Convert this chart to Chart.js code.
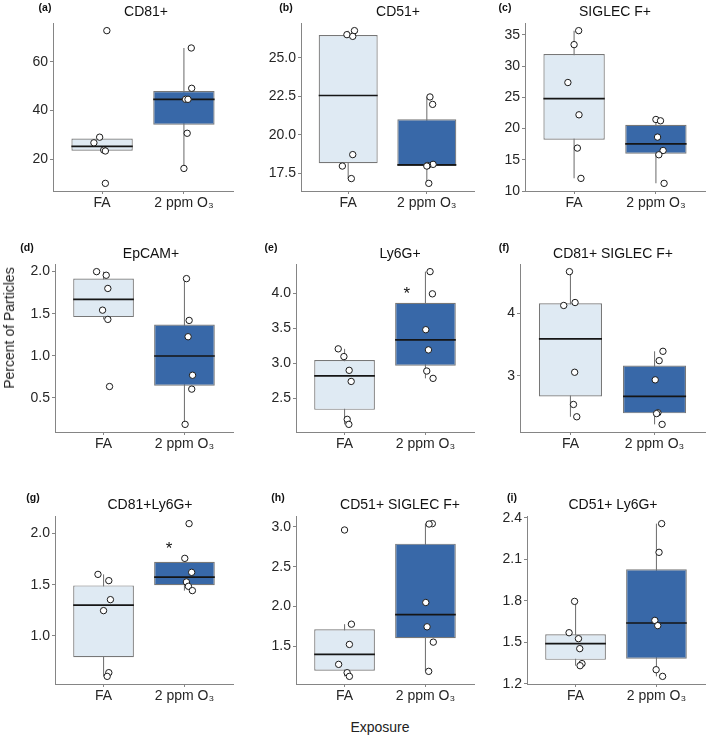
<!DOCTYPE html>
<html><head><meta charset="utf-8">
<script src="https://cdn.jsdelivr.net/npm/chart.js@4.4.0/dist/chart.umd.min.js"></script>
<style>
html,body{margin:0;padding:0;background:#fff;}
body{width:709px;height:739px;position:relative;overflow:hidden;font-family:"Liberation Sans",Arial,sans-serif;}
canvas{position:absolute;}
.lab{position:absolute;transform:translate(-50%,-50%);white-space:nowrap;color:#111;line-height:1;}
.ttl{font-size:14px;}
.let{font-size:10.5px;font-weight:bold;}
.axt{font-size:14px;color:#222;}
</style></head><body>
<script>
// ---------- data ----------
const groups = ['FA', '2 ppm O\u2083'];
const panelLetters = ['(a)','(b)','(c)','(d)','(e)','(f)','(g)','(h)','(i)'];
const panelTitles = ['CD81+','CD51+','SIGLEC F+','EpCAM+','Ly6G+','CD81+ SIGLEC F+','CD81+Ly6G+','CD51+ SIGLEC F+','CD51+ Ly6G+'];

const cd81FA   = [72.7, 29.1, 26.8, 23.82, 23.45, 10.2];
const cd81O3   = [65.6, 49.1, 44.6, 44.6, 30.7, 16.3];
const cd51FA   = [26.75, 26.49, 26.38, 18.73, 17.99, 17.18];
const cd51O3   = [22.46, 21.98, 18.1, 18.02, 17.99, 16.87];
const siglecFA = [35.69, 33.45, 27.38, 22.21, 16.88, 12.03];
const siglecO3 = [21.46, 21.25, 18.64, 16.5, 15.81, 11.23];
const epcamFA  = [2.0, 1.957, 1.80, 1.542, 1.432, 0.634];
const epcamO3  = [1.917, 1.42, 1.226, 0.768, 0.603, 0.184];
const ly6gFA   = [3.207, 3.096, 2.899, 2.74, 2.197, 2.125];
const ly6gO3   = [4.313, 3.995, 3.481, 3.192, 2.889, 2.784];
const cd81sigFA = [4.661, 4.169, 4.122, 3.058, 2.545, 2.349];
const cd81sigO3 = [3.392, 3.243, 2.937, 2.413, 2.40, 2.228];
const cd81lyFA = [1.60, 1.539, 1.354, 1.247, 0.643, 0.607];
const cd81lyO3 = [2.094, 1.756, 1.62, 1.526, 1.484, 1.442];
const cd51sigFA = [2.962, 1.776, 1.521, 1.27, 1.165, 1.119];
const cd51sigO3 = [3.042, 3.037, 2.049, 1.743, 1.55, 1.182];
const cd51lyFA = [1.796, 1.570, 1.527, 1.455, 1.347, 1.332];
const cd51lyO3 = [2.357, 2.15, 1.659, 1.621, 1.303, 1.255];

// horizontal jitter of each point (category units)
const jitCd81FA = [0.058, -0.03, -0.1, 0.02, 0.04, 0.04];
const jitCd81O3 = [0.09, 0.095, 0.02, 0.05, 0.04, 0.0];
const jitCd51FA = [0.08, -0.016, 0.058, 0.058, -0.074, 0.04];
const jitCd51O3 = [0.04, 0.074, 0.08, 0.01, 0.0, 0.025];
const jitSigFA  = [0.056, 0, -0.076, 0.06, 0.04, 0.084];
const jitSigO3  = [0, 0.056, 0.02, 0.088, 0.036, 0.1];
const jitEpFA   = [-0.086, 0.033, 0.053, -0.012, 0.053, 0.074];
const jitEpO3   = [0.025, 0.058, 0.045, 0.1, 0.09, 0.008];
const jitLyFA   = [-0.078, -0.008, 0.057, 0.082, 0.033, 0.053];
const jitLyO3   = [0.057, 0.086, 0.004, 0.037, 0.016, 0.094];
const jitC81sFA = [-0.012, 0.055, -0.08, 0.05, 0.036, 0.075];
const jitC81sO3 = [0.1, 0.055, 0.008, 0.04, 0.024, 0.09];
const jitC81lFA = [-0.069, 0.065, 0.085, 0, 0.065, 0.045];
const jitC81lO3 = [0.057, 0.004, 0.089, 0.024, 0.049, 0.098];
const jitC51sFA = [0, 0.085, 0.06, -0.073, 0.032, 0.06];
const jitC51sO3 = [0.085, 0.045, 0.004, 0.02, 0.097, 0.04];
const jitC51lFA = [-0.012, -0.08, 0.036, 0.052, 0.08, 0.056];
const jitC51lO3 = [0.064, 0.032, -0.02, 0.016, -0.004, 0.076];

// y tick values and labels
const ticksA = [20, 40, 60];            const labelsA = ['20','40','60'];
const ticksB = [17.5, 20, 22.5, 25];    const labelsB = ['17.5','20.0','22.5','25.0'];
const ticksC = [10, 15, 20, 25, 30, 35];const labelsC = ['10','15','20','25','30','35'];
const ticksD = [0.5, 1, 1.5, 2];        const labelsD = ['0.5','1.0','1.5','2.0'];
const ticksE = [2.5, 3, 3.5, 4];        const labelsE = ['2.5','3.0','3.5','4.0'];
const ticksF = [3, 4];                  const labelsF = ['3','4'];
const ticksG = [1, 1.5, 2];             const labelsG = ['1.0','1.5','2.0'];
const ticksH = [1.5, 2, 2.5, 3];        const labelsH = ['1.5','2.0','2.5','3.0'];
const ticksI = [1.2, 1.5, 1.8, 2.1, 2.4];const labelsI = ['1.2','1.5','1.8','2.1','2.4'];

// significance marks (x in category units, y in data units)
const starE = [{x: 1.77, y: 4.06}];
const starG = [{x: 1.81, y: 1.886}];

// ---------- styling / layout ----------
const FA_FILL = '#dfeaf3';
const O3_FILL = '#3868a8';
const BOX_LINE = '#777777';
const AXIS_COL = '#858585';
const TICK_COL = '#262626';
const FONT = '"Liberation Sans", Arial, sans-serif';
const Y_AXIS_W = 50, PAD_TOP = 12, X_AXIS_H = 30, PAD_RIGHT = 3;

const panels = [
  {fa: cd81FA, o3: cd81O3, jf: jitCd81FA, jo: jitCd81O3, t: ticksA, l: labelsA, stars: [], box: [53, 23, 235, 191], title: [146, 11], letter: [45, 7]},
  {fa: cd51FA, o3: cd51O3, jf: jitCd51FA, jo: jitCd51O3, t: ticksB, l: labelsB, stars: [], box: [301, 23, 476, 191], title: [398, 11], letter: [286, 7]},
  {fa: siglecFA, o3: siglecO3, jf: jitSigFA, jo: jitSigO3, t: ticksC, l: labelsC, stars: [], box: [525, 23, 707, 191], title: [615, 11], letter: [505, 7]},
  {fa: epcamFA, o3: epcamO3, jf: jitEpFA, jo: jitEpO3, t: ticksD, l: labelsD, stars: [], box: [55, 264, 235, 432], title: [151, 253], letter: [27, 247]},
  {fa: ly6gFA, o3: ly6gO3, jf: jitLyFA, jo: jitLyO3, t: ticksE, l: labelsE, stars: starE, box: [296, 264, 476, 432], title: [400, 253], letter: [271, 247]},
  {fa: cd81sigFA, o3: cd81sigO3, jf: jitC81sFA, jo: jitC81sO3, t: ticksF, l: labelsF, stars: [], box: [520, 264, 707, 432], title: [613, 253], letter: [504, 247]},
  {fa: cd81lyFA, o3: cd81lyO3, jf: jitC81lFA, jo: jitC81lO3, t: ticksG, l: labelsG, stars: starG, box: [55, 516, 235, 684], title: [150, 504], letter: [33, 497]},
  {fa: cd51sigFA, o3: cd51sigO3, jf: jitC51sFA, jo: jitC51sO3, t: ticksH, l: labelsH, stars: [], box: [296, 516, 476, 684], title: [400, 504], letter: [278, 497]},
  {fa: cd51lyFA, o3: cd51lyO3, jf: jitC51lFA, jo: jitC51lO3, t: ticksI, l: labelsI, stars: [], box: [527, 516, 707, 684], title: [613, 504], letter: [512, 497]}
];

// ---------- box-plot statistics (Tukey, quantile type 7) ----------
function quant(s, p) {
  const h = (s.length - 1) * p, lo = Math.floor(h);
  const hi = Math.min(lo + 1, s.length - 1);
  return s[lo] + (h - lo) * (s[hi] - s[lo]);
}
function boxStats(vals) {
  const s = [...vals].sort((a, b) => a - b);
  const q1 = quant(s, 0.25), med = quant(s, 0.5), q3 = quant(s, 0.75), iqr = q3 - q1;
  const lo = Math.min(...s.filter(v => v >= q1 - 1.5 * iqr));
  const hi = Math.max(...s.filter(v => v <= q3 + 1.5 * iqr));
  return {q1, med, q3, lo, hi};
}

const starPlugin = {
  id: 'sigStars',
  afterDatasetsDraw(chart, args, opts) {
    const marks = (opts && opts.marks) || [];
    const ctx = chart.ctx;
    ctx.save();
    ctx.fillStyle = '#111';
    ctx.font = '17px ' + FONT;
    ctx.textAlign = 'center';
    ctx.textBaseline = 'alphabetic';
    marks.forEach(m => {
      const px = chart.scales.x.getPixelForValue(m.x);
      const py = chart.scales.y.getPixelForValue(m.y);
      ctx.fillText('*', px, py + 9.5);
    });
    ctx.restore();
  }
};

function addLabel(text, cls, pos) {
  const d = document.createElement('div');
  d.className = 'lab ' + cls;
  d.textContent = text;
  d.style.left = pos[0] + 'px';
  d.style.top = pos[1] + 'px';
  document.body.appendChild(d);
}

panels.forEach((p, idx) => {
  const [L, T, R, B] = p.box;
  const cv = document.createElement('canvas');
  const W = Y_AXIS_W + (R - L) + PAD_RIGHT;
  const H = PAD_TOP + (B - T) + X_AXIS_H;
  cv.width = W; cv.height = H;
  cv.style.left = (L - Y_AXIS_W) + 'px';
  cv.style.top = (T - PAD_TOP) + 'px';
  cv.style.width = W + 'px'; cv.style.height = H + 'px';
  document.body.appendChild(cv);

  const all = p.fa.concat(p.o3);
  const mn = Math.min(...all), mx = Math.max(...all), rg = mx - mn;
  const st = [boxStats(p.fa), boxStats(p.o3)];
  const half = 0.375;

  const pts = p.fa.map((v, i) => ({x: 1 + p.jf[i], y: v}))
    .concat(p.o3.map((v, i) => ({x: 2 + p.jo[i], y: v})));

  const datasets = [
    {type: 'scatter', data: pts, order: 0, pointRadius: 3.2, pointBorderWidth: 1,
     pointBorderColor: '#1a1a1a', pointBackgroundColor: '#ffffff', showLine: false}
  ];
  st.forEach((s, g) => {
    datasets.push({type: 'line', data: [{x: g + 1 - half, y: s.med}, {x: g + 1 + half, y: s.med}],
      borderColor: '#151515', borderWidth: 1.7, pointRadius: 0, order: 1, fill: false});
  });
  datasets.push({type: 'bar', data: [{x: 1, y: [st[0].q1, st[0].q3]}, {x: 2, y: [st[1].q1, st[1].q3]}],
    backgroundColor: [FA_FILL, O3_FILL], borderColor: BOX_LINE, borderWidth: 1.2,
    borderSkipped: false, categoryPercentage: 1, barPercentage: 0.75, order: 2});
  st.forEach((s, g) => {
    datasets.push({type: 'line', data: [{x: g + 1, y: s.lo}, {x: g + 1, y: s.hi}],
      borderColor: BOX_LINE, borderWidth: 1.1, pointRadius: 0, order: 3, fill: false});
  });

  new Chart(cv, {
    type: 'scatter',
    data: {datasets},
    plugins: [starPlugin],
    options: {
      responsive: false, animation: false, events: [],
      devicePixelRatio: 1,
      layout: {padding: {top: PAD_TOP, right: PAD_RIGHT, left: 0, bottom: 0}},
      plugins: {legend: {display: false}, tooltip: {enabled: false}, sigStars: {marks: p.stars}},
      scales: {
        x: {
          type: 'linear', min: 0.4, max: 2.6, offset: false,
          afterBuildTicks: s => { s.ticks = [{value: 1}, {value: 2}]; },
          afterFit: s => { s.height = X_AXIS_H; },
          ticks: {callback: v => groups[Math.round(v) - 1], color: TICK_COL, padding: 1,
                  font: {family: FONT, size: 14}, maxRotation: 0, autoSkip: false},
          grid: {display: true, drawOnChartArea: false, drawTicks: true, tickLength: 3, color: AXIS_COL, offset: false},
          border: {display: true, color: AXIS_COL, width: 1}
        },
        y: {
          type: 'linear', min: mn - 0.05 * rg, max: mx + 0.05 * rg,
          afterBuildTicks: s => { s.ticks = p.t.map(v => ({value: v})); },
          afterFit: s => { s.width = Y_AXIS_W; },
          ticks: {callback: (v, i) => p.l[i], color: TICK_COL, padding: 2,
                  font: {family: FONT, size: 14}, autoSkip: false},
          grid: {display: true, drawOnChartArea: false, drawTicks: true, tickLength: 3, color: AXIS_COL},
          border: {display: true, color: AXIS_COL, width: 1}
        }
      }
    }
  });

  addLabel(panelTitles[idx], 'ttl', p.title);
  addLabel(panelLetters[idx], 'let', p.letter);
});

// shared axis titles
const yTitle = 'Percent of Particles';
const xTitle = 'Exposure';
const yl = document.createElement('div');
yl.className = 'lab axt';
yl.textContent = yTitle;
yl.style.left = '9px'; yl.style.top = '328px';
yl.style.transform = 'translate(-50%,-50%) rotate(-90deg)';
document.body.appendChild(yl);
addLabel(xTitle, 'axt', [380, 727]);
</script>
</body></html>
